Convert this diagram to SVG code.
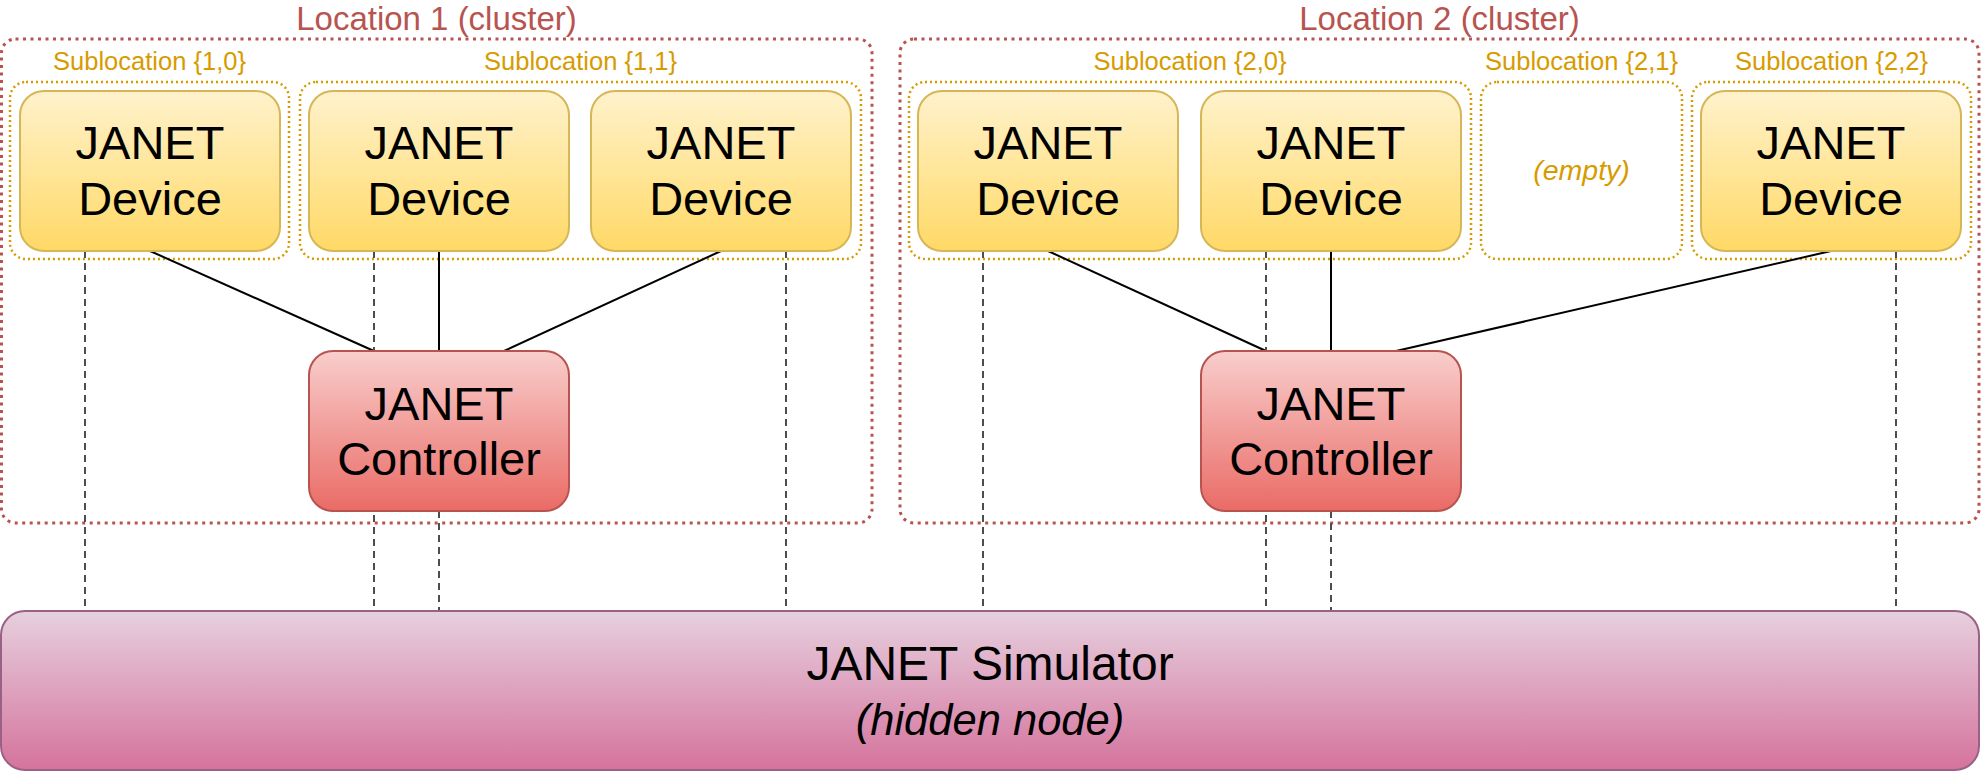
<svg xmlns="http://www.w3.org/2000/svg" width="1982" height="772" viewBox="0 0 1982 772">
  <defs>
    <linearGradient id="gDev" x1="0" y1="0" x2="0" y2="1">
      <stop offset="0" stop-color="#fff2cc"/>
      <stop offset="1" stop-color="#ffd966"/>
    </linearGradient>
    <linearGradient id="gCtl" x1="0" y1="0" x2="0" y2="1">
      <stop offset="0" stop-color="#f8cecc"/>
      <stop offset="1" stop-color="#ea6b66"/>
    </linearGradient>
    <linearGradient id="gSim" x1="0" y1="0" x2="0" y2="1">
      <stop offset="0" stop-color="#e6d0de"/>
      <stop offset="1" stop-color="#d5739d"/>
    </linearGradient>
    <style>
      text { font-family: "Liberation Sans", Arial, Helvetica, sans-serif; text-anchor: middle; }
      .cluster { fill: none; stroke: #b85450; stroke-width: 3; stroke-dasharray: 3 4.5; }
      .clabel { fill: #b85450; font-size: 33px; }
      .sub { fill: none; stroke: #d79b00; stroke-width: 2.5; stroke-dasharray: 2 3; }
      .slabel { fill: #d79b00; font-size: 25.5px; }
      .dev { fill: url(#gDev); stroke: #d6b656; stroke-width: 2; }
      .ctl { fill: url(#gCtl); stroke: #b85450; stroke-width: 2; }
      .sim { fill: url(#gSim); stroke: #996185; stroke-width: 2; }
      .ntext { fill: #000; font-size: 47px; }
      .solid { stroke: #000; stroke-width: 2; fill: none; }
      .dash { stroke: #4d4d4d; stroke-width: 2; stroke-dasharray: 7 5; fill: none; }
    </style>
  </defs>

  <g id="location1">
    <rect class="cluster" x="1.5" y="39" width="870.5" height="484" rx="14"/>
    <text class="clabel" x="436.5" y="30">Location 1 (cluster)</text>
  </g>
  <g id="location2">
    <rect class="cluster" x="900" y="39" width="1079" height="484" rx="14"/>
    <text class="clabel" x="1439.5" y="30">Location 2 (cluster)</text>
  </g>

  <g id="sublocation-1-0">
    <rect class="sub" x="10" y="82" width="279" height="177" rx="16"/>
    <text class="slabel" x="149.5" y="70">Sublocation {1,0}</text>
  </g>
  <g id="sublocation-1-1">
    <rect class="sub" x="300" y="82" width="561" height="177" rx="16"/>
    <text class="slabel" x="580.5" y="70">Sublocation {1,1}</text>
  </g>
  <g id="sublocation-2-0">
    <rect class="sub" x="909" y="82" width="562" height="177" rx="16"/>
    <text class="slabel" x="1190" y="70">Sublocation {2,0}</text>
  </g>
  <g id="sublocation-2-1">
    <rect class="sub" x="1481" y="82" width="201" height="177" rx="16"/>
    <text class="slabel" x="1581.5" y="70">Sublocation {2,1}</text>
    <text x="1581.5" y="180" fill="#d79b00" font-size="28.5" font-style="italic">(empty)</text>
  </g>
  <g id="sublocation-2-2">
    <rect class="sub" x="1692" y="82" width="279" height="177" rx="16"/>
    <text class="slabel" x="1831.5" y="70">Sublocation {2,2}</text>
  </g>

  <g id="connectors">
    <line class="solid" x1="150" y1="251" x2="374" y2="351"/>
    <line class="solid" x1="439" y1="251" x2="439" y2="351"/>
    <line class="solid" x1="721" y1="251" x2="504" y2="351"/>
    <line class="solid" x1="1048" y1="251" x2="1266" y2="351"/>
    <line class="solid" x1="1331" y1="251" x2="1331" y2="351"/>
    <line class="solid" x1="1831" y1="251" x2="1396" y2="351"/>
    <line class="dash" x1="85" y1="251" x2="85" y2="611"/>
    <line class="dash" x1="374" y1="251" x2="374" y2="611"/>
    <line class="dash" x1="439" y1="511" x2="439" y2="611"/>
    <line class="dash" x1="786" y1="251" x2="786" y2="611"/>
    <line class="dash" x1="983" y1="251" x2="983" y2="611"/>
    <line class="dash" x1="1266" y1="251" x2="1266" y2="611"/>
    <line class="dash" x1="1331" y1="511" x2="1331" y2="611"/>
    <line class="dash" x1="1896" y1="251" x2="1896" y2="611"/>
  </g>

  <g id="device-1-0">
    <rect class="dev" x="20" y="91" width="260" height="160" rx="24"/>
    <text class="ntext" x="150" y="159">JANET</text>
    <text class="ntext" x="150" y="215">Device</text>
  </g>
  <g id="device-1-1a">
    <rect class="dev" x="309" y="91" width="260" height="160" rx="24"/>
    <text class="ntext" x="439" y="159">JANET</text>
    <text class="ntext" x="439" y="215">Device</text>
  </g>
  <g id="device-1-1b">
    <rect class="dev" x="591" y="91" width="260" height="160" rx="24"/>
    <text class="ntext" x="721" y="159">JANET</text>
    <text class="ntext" x="721" y="215">Device</text>
  </g>
  <g id="device-2-0a">
    <rect class="dev" x="918" y="91" width="260" height="160" rx="24"/>
    <text class="ntext" x="1048" y="159">JANET</text>
    <text class="ntext" x="1048" y="215">Device</text>
  </g>
  <g id="device-2-0b">
    <rect class="dev" x="1201" y="91" width="260" height="160" rx="24"/>
    <text class="ntext" x="1331" y="159">JANET</text>
    <text class="ntext" x="1331" y="215">Device</text>
  </g>
  <g id="device-2-2">
    <rect class="dev" x="1701" y="91" width="260" height="160" rx="24"/>
    <text class="ntext" x="1831" y="159">JANET</text>
    <text class="ntext" x="1831" y="215">Device</text>
  </g>

  <g id="controller-1">
    <rect class="ctl" x="309" y="351" width="260" height="160" rx="24"/>
    <text class="ntext" x="439" y="420">JANET</text>
    <text class="ntext" x="439" y="475">Controller</text>
  </g>
  <g id="controller-2">
    <rect class="ctl" x="1201" y="351" width="260" height="160" rx="24"/>
    <text class="ntext" x="1331" y="420">JANET</text>
    <text class="ntext" x="1331" y="475">Controller</text>
  </g>

  <g id="simulator">
    <rect class="sim" x="1" y="611" width="1978" height="159" rx="24"/>
    <text x="990" y="680" font-size="48">JANET Simulator</text>
    <text x="990" y="735" font-size="43.5" font-style="italic">(hidden node)</text>
  </g>
</svg>
